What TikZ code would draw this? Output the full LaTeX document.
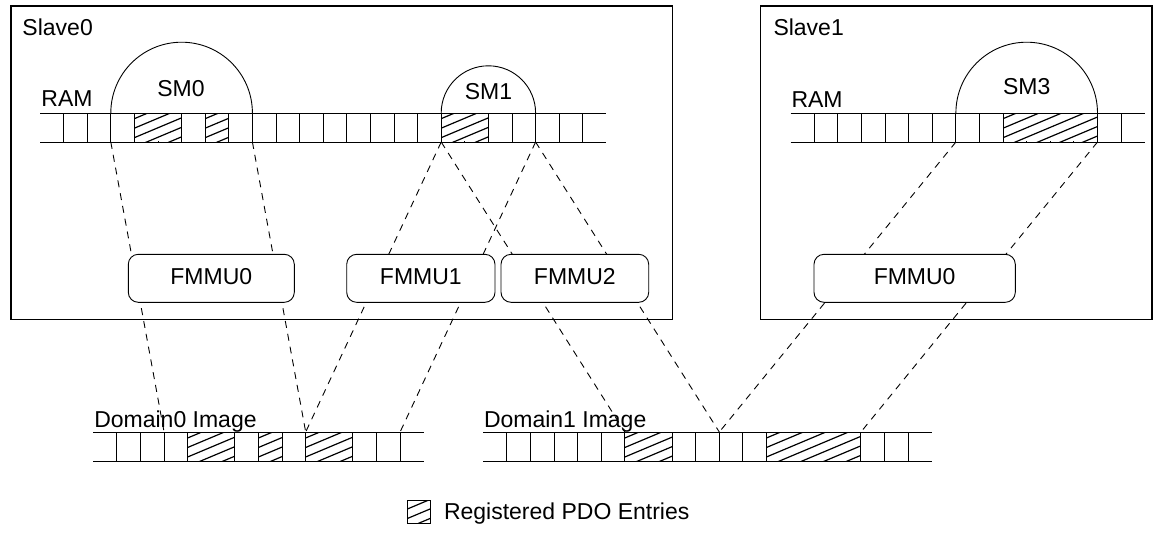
\documentclass[tikz,border=0pt]{standalone}
\usepackage{fontspec}
\setmainfont{Liberation Sans}
\newcommand{\dgfont}{\fontsize{23}{27}\selectfont}
% memory row: x0, ytop, ybot, number of inner vertical lines, number of cells
\newcommand{\memrow}[5]{%
  \draw[cellline] (#1,#2) -- ({#1+#5*23.6},#2);
  \draw[cellline] (#1,#3) -- ({#1+#5*23.6},#3);
  \foreach \k in {1,...,#4} {\draw[cellline] ({#1+\k*23.6},#2) -- ({#1+\k*23.6},#3);}
}
% hatched block: x1, x2, ytop, ybot (drawn over the cells of a row)
\newcommand{\pdohatch}[4]{%
  \fill[white] ({#1+0.6},{#3+0.6}) rectangle ({#2-0.6},{#4-0.6});
  \begin{scope}
    \clip (#1,#3) rectangle (#2,#4);
    \foreach \k in {-6,...,9} {\draw[hatchline] ({#1-2},{#4+6-\k*9.5}) -- ++(300,-126);}
  \end{scope}
}
\begin{document}
\begin{tikzpicture}[x=1pt,y=-1pt,
  frame/.style={draw, line width=1.2pt, inner sep=0pt, outer sep=0pt},
  cellline/.style={line width=0.9pt},
  hatchline/.style={line width=1.2pt},
  smarc/.style={line width=0.9pt},
  mapline/.style={line width=0.9pt, dash pattern=on 7pt off 6pt},
  fmmu/.style={draw, fill=white, rounded corners=10pt, line width=0.9pt,
    minimum height=48pt, inner sep=0pt, outer sep=0pt, font=\dgfont,
    text height=16.5pt, text depth=5pt},
  lbl/.style={font=\dgfont, inner sep=0pt, outer sep=0pt}
]
\useasboundingbox (0,0) rectangle (1163,542);

% slave frames
\node[frame, anchor=north west, minimum width=661.3pt, minimum height=313.3pt] (slave0) at (11,6) {};
\node[frame, anchor=north west, minimum width=391.3pt, minimum height=313.3pt] (slave1) at (760.7,6) {};
\node[lbl, anchor=base west] (slave0lbl) at (22.5,35) {Slave0};
\node[lbl, anchor=base west] (slave1lbl) at (773.5,35) {Slave1};

% RAM rows
\memrow{40}{113}{142}{23}{24}
\pdohatch{134.4}{181.6}{113}{142}
\pdohatch{205.2}{228.8}{113}{142}
\pdohatch{441.2}{488.4}{113}{142}
\node[lbl, anchor=base west] (ram0) at (41.5,106.7) {RAM};

\memrow{790.7}{113}{142}{14}{15}
\pdohatch{1003.1}{1097.5}{113}{142}
\node[lbl, anchor=base west] (ram1) at (791.5,107) {RAM};

% sync managers
\draw[smarc] (110.8,113) arc[start angle=180, end angle=0, radius=70.8pt];
\draw[smarc] (441.2,113) arc[start angle=180, end angle=0, radius=47.2pt];
\draw[smarc] (955.9,113) arc[start angle=180, end angle=0, radius=70.8pt];
\node[lbl, anchor=base] (sm0) at (181,96.5) {SM0};
\node[lbl, anchor=base] (sm1) at (488.4,99.5) {SM1};
\node[lbl, anchor=base] (sm3) at (1026.7,94.5) {SM3};

% domain rows
\memrow{93.3}{432}{461.3}{13}{14}
\pdohatch{187.7}{234.9}{432}{461.3}
\pdohatch{258.5}{282.1}{432}{461.3}
\pdohatch{305.7}{352.9}{432}{461.3}
\node[lbl, anchor=base west] (dom0) at (94.3,427) {Domain0 Image};

\memrow{483.3}{432}{461.3}{18}{19}
\pdohatch{624.9}{672.1}{432}{461.3}
\pdohatch{766.5}{860.9}{432}{461.3}
\node[lbl, anchor=base west] (dom1) at (484,427) {Domain1 Image};

% mapping end points
\coordinate (r0L) at (110.8,142);
\coordinate (r0R) at (252.4,142);
\coordinate (r1L) at (441.2,142);
\coordinate (r1R) at (535.6,142);
\coordinate (r3L) at (955.9,142);
\coordinate (r3R) at (1097.5,142);
\coordinate (d0a) at (164.1,432);
\coordinate (d0b) at (305.7,432);
\coordinate (d0c) at (400.1,432);
\coordinate (d1a) at (624.9,432);
\coordinate (d1b) at (719.3,432);
\coordinate (d1c) at (860.9,432);

\draw[mapline] (r0L) -- (d0a);
\draw[mapline] (r0R) -- (d0b);
\draw[mapline] (r1L) -- (d0b);
\draw[mapline] (r1R) -- (d0c);
\draw[mapline] (r1L) -- (d1a);
\draw[mapline] (r1R) -- (d1b);
\draw[mapline] (r3L) -- (d1b);
\draw[mapline] (r3R) -- (d1c);

% FMMUs
\node[fmmu, minimum width=166pt] (fmmu0a) at (211.3,278.3) {FMMU0};
\node[fmmu, minimum width=148.3pt] (fmmu1) at (420.85,278.3) {FMMU1};
\node[fmmu, minimum width=147.7pt] (fmmu2) at (574.85,278.3) {FMMU2};
\node[fmmu, minimum width=201.3pt] (fmmu0b) at (914.65,278.3) {FMMU0};

% legend
\pdohatch{407}{430}{500}{523}
\node[draw, line width=0.9pt, minimum width=23pt, minimum height=23pt, inner sep=0pt, outer sep=0pt, anchor=north west] (legbox) at (407,500) {};
\node[lbl, anchor=base west] (legtext) at (444,519.5) {Registered PDO Entries};
\end{tikzpicture}
\end{document}
